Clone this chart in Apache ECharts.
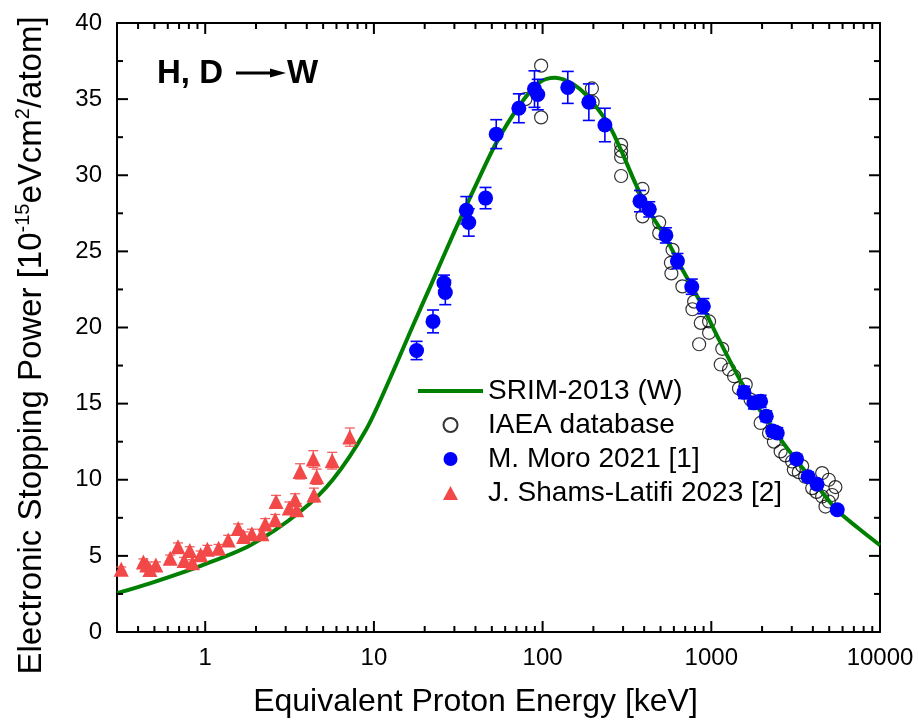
<!DOCTYPE html>
<html>
<head>
<meta charset="utf-8">
<script src="https://cdn.jsdelivr.net/npm/echarts@6/dist/echarts.min.js"></script>
<style>html,body{margin:0;padding:0;background:#fff}#c{width:919px;height:726px}</style>
</head>
<body>
<div id="c"></div>
<script>
// ---- data ----
const srimEnergy = [0.3, 0.47, 0.94, 1.85, 3.65, 5.7, 9.0, 12.4, 17, 22, 30, 40, 53, 73, 96, 118, 165, 238, 285, 357, 430, 538, 630, 766, 897, 1111, 1600, 2117, 2518, 3184, 3963, 5560, 7480, 10000];
const srimValue  = [2.55, 3.2, 4.35, 5.7, 7.9, 10.0, 13.3, 16.6, 20.1, 22.9, 26.3, 29.3, 32.1, 34.6, 36.1, 36.4, 35.7, 33.6, 31.9, 29.4, 27.6, 25.9, 24.4, 22.7, 21.3, 19.2, 15.9, 14.0, 12.8, 11.3, 10.0, 8.0, 6.8, 5.7];

const iaeaEnergy = [79, 98, 98, 196, 198, 292, 292, 292, 292, 391, 391, 491, 491, 589, 576, 580, 674, 791, 773, 866, 970, 970, 847, 1161, 1137, 1274, 1365, 1459, 1600, 1710, 1960, 2198, 2350, 2576, 2750, 3015, 3085, 3300, 3458, 3600, 3963, 4200, 4540, 4970, 5440, 4540, 4970, 4750, 5200];
const iaeaValue  = [35.0, 37.2, 33.8, 35.7, 34.8, 32.0, 31.6, 31.2, 29.95, 29.1, 27.3, 26.9, 26.2, 25.1, 24.25, 23.55, 22.7, 21.7, 21.2, 20.3, 20.4, 19.65, 18.9, 18.6, 17.57, 17.24, 16.8, 16.0, 16.25, 15.26, 13.73, 13.07, 12.5, 11.86, 11.6, 11.2, 10.66, 10.5, 10.9, 10.2, 9.45, 9.2, 10.44, 10.0, 9.52, 8.9, 8.57, 8.24, 9.0];

const moroEnergy = [17.9, 22.4, 26.0, 26.5, 35.3, 36.5, 45.9, 53.1, 72.3, 89.5, 93.6, 141, 188, 234, 378, 429, 538, 630, 766, 897, 1562, 1790, 1960, 2117, 2310, 2460, 3200, 3750, 4236, 5580];
const moroValue  = [18.49, 20.4, 22.94, 22.3, 27.7, 26.9, 28.5, 32.7, 34.4, 35.66, 35.3, 35.77, 34.8, 33.3, 28.3, 27.76, 26.05, 24.36, 22.68, 21.4, 15.74, 15.05, 15.15, 14.17, 13.2, 13.07, 11.36, 10.2, 9.7, 8.03];
const moroError  = [0.6, 0.75, 0.5, 0.8, 0.9, 0.9, 0.7, 0.95, 0.95, 1.2, 1.0, 1.05, 1.2, 1.1, 0.7, 0.5, 0.5, 0.5, 0.5, 0.5, 0.4, 0.4, 0.4, 0.35, 0.35, 0.35, 0.3, 0.3, 0.3, 0.25];

const shamsEnergy = [0.318, 0.43, 0.45, 0.47, 0.51, 0.62, 0.69, 0.75, 0.81, 0.84, 0.94, 1.03, 1.2, 1.37, 1.57, 1.69, 1.89, 2.17, 2.27, 2.6, 2.63, 3.15, 3.41, 3.49, 3.65, 4.41, 4.37, 4.58, 5.66, 7.2];
const shamsValue  = [4.12, 4.6, 4.4, 4.1, 4.4, 4.85, 5.6, 4.7, 5.35, 4.55, 5.07, 5.44, 5.5, 6.05, 6.8, 6.27, 6.45, 6.45, 7.1, 7.37, 8.57, 8.14, 8.68, 8.03, 10.55, 9.0, 11.36, 10.2, 11.25, 12.8];
const shamsError  = [0.15, 0.2, 0.2, 0.2, 0.2, 0.2, 0.25, 0.2, 0.25, 0.2, 0.25, 0.25, 0.25, 0.3, 0.3, 0.3, 0.3, 0.3, 0.35, 0.35, 0.4, 0.4, 0.4, 0.4, 0.5, 0.45, 0.55, 0.5, 0.55, 0.6];

const xTickLabels = ['1', '10', '100', '1000', '10000'];
const xMajorTicks = [1, 10, 100, 1000, 10000];
const xMinorTicks = [];
for (let d = -1; d <= 3; d++) for (let k = 2; k <= 9; k++) {
  const v = +(k * Math.pow(10, d)).toPrecision(6);
  if (v > 0.31 && v < 10000) xMinorTicks.push(v);
}
const yMajorTicks = [5, 10, 15, 20, 25, 30, 35];
const yMinorTicks = [2.5, 7.5, 12.5, 17.5, 22.5, 27.5, 32.5, 37.5];

// ---- chart ----
const FONT = '"Liberation Sans", Arial, sans-serif';
const zip = (a, b, c) => a.map((v, i) => c ? [v, b[i], c[i]] : [v, b[i]]);

function errRender(color, cap, lw) {
  return function (params, api) {
    const x = api.value(0), y = api.value(1), e = api.value(2);
    const hi = api.coord([x, y + e]), lo = api.coord([x, y - e]);
    const h = cap / 2;
    const st = { stroke: color, lineWidth: lw };
    return { type: 'group', children: [
      { type: 'line', shape: { x1: hi[0], y1: hi[1], x2: lo[0], y2: lo[1] }, style: st },
      { type: 'line', shape: { x1: hi[0] - h, y1: hi[1], x2: hi[0] + h, y2: hi[1] }, style: st },
      { type: 'line', shape: { x1: lo[0] - h, y1: lo[1], x2: lo[0] + h, y2: lo[1] }, style: st }
    ]};
  };
}

// x-axis ticks (bottom and top), value[0] = tick energy, value[1] = tick length
function xTickRender(params, api) {
  const v = api.value(0), len = api.value(1);
  const b = api.coord([v, 0]), t = api.coord([v, 40]);
  const st = { fill: '#000' };
  return { type: 'group', children: [
    { type: 'rect', shape: { x: b[0] - 1, y: b[1] - len, width: 2, height: len }, style: st },
    { type: 'rect', shape: { x: t[0] - 1, y: t[1], width: 2, height: len }, style: st }
  ]};
}
// y-axis ticks (left and right), value[0] = tick value, value[1] = tick length
function yTickRender(params, api) {
  const v = api.value(0), len = api.value(1);
  const l = api.coord([0.3, v]), r = api.coord([10000, v]);
  const st = { fill: '#000' };
  return { type: 'group', children: [
    { type: 'rect', shape: { x: l[0], y: l[1] - 1, width: len, height: 2 }, style: st },
    { type: 'rect', shape: { x: r[0] - len, y: r[1] - 1, width: len, height: 2 }, style: st }
  ]};
}
const xTickData = xMajorTicks.map(v => [v, 11]).concat(xMinorTicks.map(v => [v, 6]));
const yTickData = yMajorTicks.map(v => [v, 11]).concat(yMinorTicks.map(v => [v, 6]));

const axisLine = { show: true, onZero: false, lineStyle: { color: '#000', width: 2 } };

const chart = echarts.init(document.getElementById('c'), null, { renderer: 'canvas' });
chart.setOption({
  animation: false,
  backgroundColor: '#fff',
  grid: { left: 117, top: 23, width: 763, height: 609, outerBoundsMode: 'none', containLabel: false },
  xAxis: [
    {
      type: 'log', logBase: 10, min: 0.3, max: 10000, position: 'bottom',
      axisLine, axisTick: { show: false }, splitLine: { show: false }, minorTick: { show: false },
      axisLabel: {
        fontSize: 24, color: '#000', fontFamily: FONT, margin: 14, showMinLabel: false,
        formatter: v => { const s = String(Math.round(v)); return (xTickLabels.includes(s) && Math.abs(v - Math.round(v)) < 1e-6) ? s : ''; }
      },
      name: 'Equivalent Proton Energy [keV]', nameLocation: 'middle', nameGap: 54,
      nameTextStyle: { fontSize: 32, color: '#000', fontFamily: FONT, padding: [0, 46, 0, 0] }
    },
    {
      type: 'log', logBase: 10, min: 0.3, max: 10000, position: 'top',
      axisLine, axisTick: { show: false }, axisLabel: { show: false }, splitLine: { show: false }
    }
  ],
  yAxis: [
    {
      type: 'value', min: 0, max: 40, interval: 5, position: 'left',
      axisLine, axisTick: { show: false },
      splitLine: { show: false },
      axisLabel: { fontSize: 24, color: '#000', fontFamily: FONT, margin: 15 },
      name: '{a|Electronic Stopping Power [10}{s|-15}{a|eVcm}{s|2}{a|/atom]}',
      nameLocation: 'middle', nameGap: 66, nameRotate: 90,
      nameTextStyle: {
        color: '#000', fontFamily: FONT, padding: [0, 36, 0, 0],
        rich: {
          a: { fontSize: 33, fontFamily: FONT, color: '#000', lineHeight: 38 },
          s: { fontSize: 20, fontFamily: FONT, color: '#000', lineHeight: 22, verticalAlign: 'top' }
        }
      }
    },
    {
      type: 'value', min: 0, max: 40, interval: 5, position: 'right',
      axisLine, axisTick: { show: false },
      splitLine: { show: false }, axisLabel: { show: false }
    }
  ],
  legend: {
    orient: 'vertical', left: 418, top: 377, padding: 0, itemGap: 6,
    itemWidth: 65, itemHeight: 14,
    textStyle: { fontSize: 28, color: '#000', fontFamily: FONT },
    data: [
      { name: 'SRIM-2013 (W)', icon: 'path://M0,0 M65,14 M0,5 L65,5 L65,9 L0,9 Z' },
      { name: 'IAEA database' },
      { name: 'M. Moro 2021 [1]' },
      { name: 'J. Shams-Latifi 2023 [2]', icon: 'path://M0,0 M65,14 M25,14 L32.5,0 L40,14 Z' }
    ]
  },
  graphic: [
    { type: 'text', left: 157, top: 57, style: { text: 'H, D', font: 'bold 33px ' + FONT, fill: '#000' } },
    { type: 'line', shape: { x1: 236, y1: 73, x2: 274, y2: 73 }, style: { stroke: '#000', lineWidth: 3 } },
    { type: 'polygon', shape: { points: [[270, 68.5], [286, 73], [270, 77.5]] }, style: { fill: '#000' } },
    { type: 'text', left: 287, top: 57, style: { text: 'W', font: 'bold 33px ' + FONT, fill: '#000' } }
  ],
  series: [
    {
      type: 'custom', name: 'xTicks', silent: true, clip: false, z: 10,
      renderItem: xTickRender, data: xTickData,
      encode: { x: 0 }
    },
    {
      type: 'custom', name: 'yTicks', silent: true, clip: false, z: 10,
      renderItem: yTickRender, data: yTickData,
      encode: { y: 0 }
    },
    {
      type: 'scatter', name: 'IAEA database', z: 2, symbol: 'circle', symbolSize: 13,
      itemStyle: { color: 'rgba(0,0,0,0)', borderColor: '#000', borderWidth: 1.2 },
      data: zip(iaeaEnergy, iaeaValue)
    },
    {
      type: 'line', name: 'SRIM-2013 (W)', z: 3, symbol: 'none', smooth: 0.3,
      lineStyle: { color: '#008000', width: 4 }, itemStyle: { color: '#008000' },
      data: zip(srimEnergy, srimValue)
    },
    {
      type: 'custom', name: 'moroErr', z: 4, silent: true,
      renderItem: errRender('#0000FF', 12, 1.6), data: zip(moroEnergy, moroValue, moroError), encode: { x: 0, y: 1 }
    },
    {
      type: 'custom', name: 'shamsErr', z: 4, silent: true,
      renderItem: errRender('#F06060', 10, 1.3), data: zip(shamsEnergy, shamsValue, shamsError), encode: { x: 0, y: 1 }
    },
    {
      type: 'scatter', name: 'M. Moro 2021 [1]', z: 5, symbol: 'circle', symbolSize: 15,
      itemStyle: { color: '#0000FF', opacity: 1 },
      data: zip(moroEnergy, moroValue)
    },
    {
      type: 'scatter', name: 'J. Shams-Latifi 2023 [2]', z: 5, symbol: 'triangle', symbolSize: 15,
      itemStyle: { color: '#F24848', opacity: 1 },
      data: zip(shamsEnergy, shamsValue)
    }
  ]
});
</script>
</body>
</html>
